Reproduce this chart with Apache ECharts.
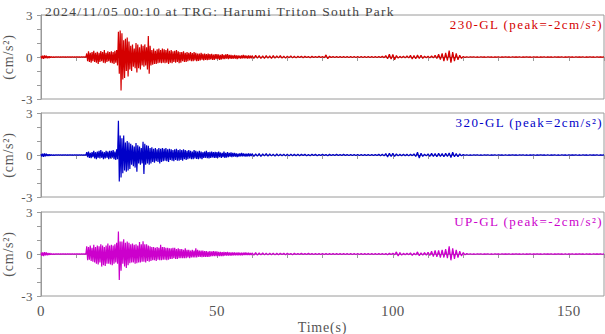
<!DOCTYPE html>
<html><head><meta charset="utf-8">
<script src="https://cdn.jsdelivr.net/npm/echarts@6/dist/echarts.min.js"></script>
<style>html,body{margin:0;padding:0;background:#fff}#c{width:605px;height:334px}</style>
</head><body><div id="c"></div>
<script>
// the hand-read waveforms: 0-60 s at 0.25 s spacing, then 60-160 s at 0.5 s spacing
const dtHead = 0.25;
const dtTail = 0.5;
const tailStart = 60;
const xTickLabels = [0, 50, 100, 150];
const yTickLabels = [-3, 0, 3];
const chartTitle = '2024/11/05 00:10 at TRG: Harumi Triton South Park';
const channelNames = ['230-GL (peak=-2cm/s²)', '320-GL (peak=2cm/s²)', 'UP-GL (peak=-2cm/s²)'];
const yName = '(cm/s²)';
const xName = 'Time(s)';

// 230-GL acceleration (cm/s^2), t = 0 ... 59.75 s
const gl230Head = [
0.08,-0.12,0.1,-0.14,0.12,-0.08,0.1,-0.1,0.06,-0.08,0.05,-0.04,0.03,-0.03,0.02,-0.03,0.02,-0.02,0.02,-0.01,
0.02,-0.02,0.01,-0.02,0.02,-0.01,0.02,-0.02,0.01,-0.02,0.02,-0.01,0.02,-0.02,0.01,-0.01,0.02,-0.02,0.01,-0.02,
0.02,-0.01,0.02,-0.02,0.01,-0.02,0.02,-0.01,0.02,-0.02,0.01,-0.02,0.25,-0.3,0.4,-0.35,0.3,-0.4,0.35,-0.3,
0.45,-0.35,0.3,-0.4,0.38,-0.5,0.3,-0.35,0.42,-0.3,0.35,-0.4,0.5,-0.45,0.3,-0.35,0.4,-0.3,0.35,-0.4,
0.4,-0.45,0.35,-0.5,0.45,-0.4,0.5,-0.6,1.8,-1.2,1.9,-2.4,1.7,-1.6,1.2,-1.5,1.3,-1.0,1.4,-1.4,
1.1,-0.9,0.8,-1.0,0.9,-0.7,0.6,-0.8,1.0,-1.1,0.9,-0.8,0.7,-0.9,0.9,-0.6,0.8,-0.7,0.9,-0.6,
0.7,-0.9,1.5,-1.2,0.8,-0.6,0.5,-0.55,0.6,-0.5,0.45,-0.5,0.55,-0.45,0.6,-0.4,0.5,-0.45,0.6,-0.4,
0.55,-0.45,0.5,-0.4,0.6,-0.5,0.45,-0.4,0.5,-0.45,0.4,-0.35,0.45,-0.4,0.5,-0.35,0.4,-0.45,0.35,-0.4,
0.35,-0.3,0.4,-0.35,0.3,-0.35,0.35,-0.3,0.3,-0.25,0.35,-0.3,0.28,-0.3,0.35,-0.25,0.3,-0.3,0.25,-0.28,
0.25,-0.25,0.3,-0.2,0.22,-0.25,0.25,-0.2,0.2,-0.22,0.25,-0.2,0.2,-0.18,0.22,-0.2,0.18,-0.2,0.2,-0.15,
0.2,-0.15,0.18,-0.2,0.15,-0.18,0.2,-0.15,0.15,-0.15,0.18,-0.12,0.2,-0.15,0.15,-0.12,0.15,-0.14,0.12,-0.12,
0.15,-0.12,0.12,-0.15,0.12,-0.1,0.1,-0.12,0.12,-0.1,0.15,-0.1,0.12,-0.1,0.1,-0.12,0.12,-0.1,0.1,-0.1
];
// 230-GL, t = 60 ... 160 s
const gl230Tail = [
0.1,-0.1,0.12,-0.08,0.1,-0.1,0.08,-0.1,0.1,-0.08,
0.08,-0.1,0.1,-0.08,0.08,-0.06,0.1,-0.08,0.06,-0.08,
0.06,-0.05,0.08,-0.06,0.05,-0.06,0.05,-0.04,0.06,-0.05,
0.05,-0.04,0.04,-0.05,0.05,-0.04,0.04,-0.04,0.05,-0.04,
0.04,-0.05,0.15,-0.12,0.06,-0.04,0.04,-0.03,0.04,-0.04,
0.03,-0.04,0.04,-0.03,0.03,-0.03,0.04,-0.03,0.03,-0.03,
0.03,-0.03,0.04,-0.03,0.03,-0.03,0.03,-0.04,0.03,-0.03,
0.03,-0.03,0.04,-0.04,0.05,-0.05,0.1,-0.12,0.2,-0.15,
0.18,-0.2,0.1,-0.08,0.05,-0.05,0.06,-0.06,0.08,-0.07,
0.12,-0.15,0.1,-0.12,0.15,-0.1,0.12,-0.1,0.06,-0.05,
0.05,-0.06,0.08,-0.07,0.12,-0.1,0.2,-0.18,0.25,-0.3,
0.3,-0.25,0.45,-0.4,0.35,-0.3,0.25,-0.2,0.12,-0.1,
0.04,-0.03,0.02,-0.02,0.02,-0.01,0.02,-0.02,0.01,-0.02,
0.02,-0.01,0.01,-0.02,0.02,-0.01,0.01,-0.02,0.01,-0.01,
0.02,-0.02,0.01,-0.01,0.02,-0.01,0.01,-0.02,0.02,-0.01,
0.01,-0.01,0.02,-0.02,0.01,-0.01,0.02,-0.01,0.01,-0.02,
0.02,-0.01,0.01,-0.02,0.01,-0.01,0.02,-0.02,0.01,-0.01,
0.01,-0.02,0.02,-0.01,0.01,-0.01,0.02,-0.02,0.01,-0.01,
0.02,-0.01,0.01,-0.02,0.02,-0.01,0.01,-0.01,0.02,-0.02,
0.01,-0.01,0.02,-0.01,0.01,-0.02,0.02,-0.01,0.01,-0.01,
0.01
];

// 320-GL acceleration (cm/s^2), t = 0 ... 59.75 s
const gl320Head = [
0.08,-0.12,0.1,-0.14,0.12,-0.1,0.1,-0.08,0.06,-0.07,0.05,-0.04,0.03,-0.03,0.02,-0.03,0.02,-0.02,0.02,-0.01,
0.02,-0.01,0.02,-0.02,0.01,-0.02,0.02,-0.01,0.02,-0.02,0.01,-0.02,0.02,-0.01,0.02,-0.02,0.01,-0.02,0.02,-0.01,
0.02,-0.02,0.01,-0.02,0.02,-0.01,0.02,-0.02,0.01,-0.02,0.02,-0.02,0.2,-0.15,0.25,-0.2,0.15,-0.22,0.2,-0.15,
0.3,-0.25,0.2,-0.3,0.25,-0.2,0.3,-0.25,0.35,-0.2,0.25,-0.3,0.2,-0.25,0.3,-0.2,0.25,-0.3,0.3,-0.25,
0.3,-0.2,0.35,-0.3,0.25,-0.35,0.4,-0.3,2.45,-1.9,1.4,-1.6,1.2,-1.3,1.4,-1.1,0.9,-1.2,1.0,-1.1,
0.9,-1.0,0.8,-0.7,0.7,-0.8,0.6,-0.9,0.85,-1.2,0.7,-0.6,0.6,-0.7,0.5,-0.6,0.95,-1.35,0.8,-0.7,
0.7,-0.6,0.65,-0.7,0.5,-0.6,0.55,-0.5,0.45,-0.55,0.5,-0.45,0.4,-0.5,0.5,-0.6,0.45,-0.5,0.5,-0.45,
0.45,-0.4,0.5,-0.45,0.4,-0.5,0.45,-0.35,0.4,-0.4,0.35,-0.45,0.4,-0.35,0.45,-0.4,0.35,-0.4,0.4,-0.35,
0.35,-0.4,0.4,-0.3,0.35,-0.35,0.3,-0.3,0.35,-0.25,0.3,-0.3,0.25,-0.3,0.35,-0.25,0.3,-0.28,0.25,-0.3,
0.3,-0.25,0.25,-0.3,0.2,-0.2,0.25,-0.2,0.3,-0.22,0.2,-0.25,0.22,-0.2,0.25,-0.18,0.2,-0.2,0.22,-0.2,
0.2,-0.2,0.25,-0.15,0.18,-0.2,0.15,-0.15,0.25,-0.2,0.15,-0.18,0.2,-0.15,0.15,-0.12,0.18,-0.15,0.15,-0.12,
0.15,-0.12,0.12,-0.15,0.1,-0.12,0.12,-0.1,0.15,-0.1,0.12,-0.1,0.1,-0.12,0.1,-0.1,0.12,-0.1,0.1,-0.08
];
// 320-GL, t = 60 ... 160 s
const gl320Tail = [
0.1,-0.1,0.08,-0.08,0.1,-0.1,0.08,-0.06,0.1,-0.08,
0.08,-0.06,0.06,-0.08,0.08,-0.06,0.06,-0.05,0.06,-0.06,
0.05,-0.06,0.06,-0.05,0.05,-0.05,0.06,-0.05,0.05,-0.04,
0.05,-0.05,0.04,-0.05,0.06,-0.04,0.05,-0.05,0.04,-0.04,
0.05,-0.04,0.04,-0.05,0.05,-0.04,0.04,-0.04,0.05,-0.04,
0.04,-0.04,0.05,-0.04,0.04,-0.03,0.04,-0.04,0.03,-0.04,
0.04,-0.03,0.04,-0.04,0.03,-0.04,0.04,-0.03,0.04,-0.04,
0.04,-0.04,0.05,-0.05,0.06,-0.06,0.1,-0.15,0.12,-0.1,
0.12,-0.1,0.08,-0.06,0.05,-0.05,0.06,-0.05,0.05,-0.06,
0.06,-0.05,0.08,-0.1,0.2,-0.22,0.12,-0.1,0.06,-0.06,
0.08,-0.1,0.12,-0.1,0.1,-0.12,0.12,-0.1,0.1,-0.12,
0.12,-0.1,0.15,-0.18,0.2,-0.12,0.1,-0.12,0.08,-0.06,
0.03,-0.02,0.02,-0.02,0.01,-0.02,0.02,-0.01,0.02,-0.02,
0.01,-0.02,0.02,-0.01,0.02,-0.02,0.01,-0.01,0.02,-0.02,
0.02,-0.01,0.01,-0.02,0.02,-0.02,0.01,-0.01,0.02,-0.01,
0.01,-0.02,0.02,-0.01,0.02,-0.02,0.01,-0.02,0.01,-0.01,
0.02,-0.02,0.01,-0.01,0.02,-0.01,0.01,-0.02,0.02,-0.02,
0.01,-0.01,0.02,-0.02,0.01,-0.02,0.02,-0.01,0.01,-0.02,
0.02,-0.01,0.01,-0.01,0.02,-0.02,0.01,-0.02,0.02,-0.01,
0.01,-0.02,0.02,-0.01,0.01,-0.01,0.02,-0.02,0.01,-0.01,
0.01
];

// UP-GL acceleration (cm/s^2), t = 0 ... 59.75 s
const glUpHead = [
0.1,-0.14,0.12,-0.15,0.14,-0.1,0.12,-0.1,0.08,-0.08,0.06,-0.05,0.03,-0.03,0.02,-0.03,0.02,-0.02,0.02,-0.01,
0.02,-0.02,0.01,-0.02,0.02,-0.01,0.02,-0.02,0.01,-0.02,0.02,-0.01,0.02,-0.02,0.01,-0.01,0.02,-0.02,0.01,-0.02,
0.02,-0.01,0.02,-0.02,0.01,-0.02,0.02,-0.01,0.02,-0.02,0.01,-0.02,0.55,-0.45,0.5,-0.4,0.6,-0.5,0.45,-0.55,
0.65,-0.6,0.5,-0.7,0.6,-0.75,0.55,-0.6,0.7,-0.9,0.6,-0.8,0.5,-0.85,0.6,-0.7,0.75,-0.7,0.6,-0.75,
0.65,-0.8,0.6,-0.7,0.7,-0.6,0.8,-0.7,1.6,-1.85,0.9,-1.2,0.9,-0.7,1.05,-0.9,0.8,-1.0,0.9,-0.8,
0.8,-0.65,0.7,-0.6,0.75,-0.6,0.65,-0.7,0.7,-0.65,0.6,-0.6,0.85,-0.6,0.7,-0.55,0.9,-0.55,0.7,-0.6,
0.7,-0.5,0.6,-0.55,0.55,-0.5,0.5,-0.45,0.5,-0.45,0.45,-0.5,0.5,-0.4,0.45,-0.45,0.65,-0.45,0.5,-0.4,
0.5,-0.4,0.45,-0.45,0.45,-0.4,0.4,-0.35,0.4,-0.35,0.45,-0.3,0.45,-0.35,0.35,-0.35,0.4,-0.3,0.35,-0.3,
0.35,-0.3,0.3,-0.3,0.4,-0.3,0.3,-0.25,0.3,-0.3,0.25,-0.25,0.3,-0.25,0.25,-0.25,0.4,-0.25,0.3,-0.2,
0.25,-0.2,0.25,-0.22,0.25,-0.2,0.2,-0.2,0.2,-0.2,0.18,-0.2,0.2,-0.18,0.18,-0.16,0.2,-0.15,0.18,-0.15,
0.18,-0.15,0.15,-0.16,0.15,-0.15,0.14,-0.15,0.15,-0.12,0.14,-0.12,0.15,-0.12,0.12,-0.12,0.12,-0.12,0.12,-0.1,
0.12,-0.1,0.1,-0.1,0.12,-0.1,0.1,-0.1,0.1,-0.1,0.1,-0.08,0.12,-0.08,0.1,-0.08,0.1,-0.08,0.08,-0.08
];
// UP-GL, t = 60 ... 160 s
const glUpTail = [
0.08,-0.08,0.1,-0.08,0.08,-0.06,0.08,-0.06,0.06,-0.06,
0.06,-0.05,0.06,-0.06,0.05,-0.05,0.06,-0.04,0.05,-0.05,
0.05,-0.04,0.04,-0.05,0.05,-0.04,0.04,-0.04,0.05,-0.04,
0.04,-0.04,0.05,-0.04,0.04,-0.03,0.04,-0.04,0.03,-0.04,
0.04,-0.03,0.04,-0.04,0.03,-0.04,0.04,-0.03,0.04,-0.04,
0.03,-0.04,0.04,-0.03,0.03,-0.03,0.04,-0.03,0.03,-0.03,
0.03,-0.03,0.04,-0.03,0.03,-0.04,0.03,-0.03,0.04,-0.03,
0.03,-0.03,0.04,-0.04,0.03,-0.03,0.04,-0.05,0.05,-0.04,
0.06,-0.05,0.15,-0.15,0.1,-0.08,0.05,-0.05,0.06,-0.05,
0.08,-0.1,0.06,-0.06,0.15,-0.12,0.08,-0.08,0.1,-0.08,
0.12,-0.1,0.2,-0.18,0.25,-0.2,0.25,-0.25,0.3,-0.25,
0.35,-0.3,0.55,-0.45,0.4,-0.35,0.3,-0.25,0.2,-0.15,
0.1,-0.06,0.03,-0.02,0.02,-0.02,0.01,-0.02,0.02,-0.01,
0.02,-0.02,0.01,-0.01,0.02,-0.02,0.01,-0.02,0.02,-0.01,
0.01,-0.02,0.02,-0.01,0.01,-0.01,0.02,-0.02,0.01,-0.01,
0.02,-0.01,0.01,-0.02,0.02,-0.02,0.01,-0.01,0.02,-0.02,
0.01,-0.01,0.02,-0.01,0.01,-0.02,0.02,-0.01,0.01,-0.01,
0.02,-0.02,0.01,-0.01,0.02,-0.01,0.01,-0.02,0.02,-0.02,
0.01,-0.01,0.02,-0.02,0.01,-0.01,0.02,-0.01,0.01,-0.02,
0.02,-0.01,0.01,-0.02,0.02,-0.01,0.01,-0.01,0.02,-0.02,
0.01
];

const waves = [[gl230Head, gl230Tail], [gl320Head, gl320Tail], [glUpHead, glUpTail]];
const colors = ['#d40000', '#0000c8', '#cc00cc'];
const FONT = '"Liberation Serif", "DejaVu Serif", serif';
const TXT = '#555';
const AX = '#9a9a9a';

const chart = echarts.init(document.getElementById('c'), null, {renderer: 'svg'});

const gridTops = [15, 113, 212];
const grids = gridTops.map(t => ({left: 41, right: 1, top: t, height: 84, show: true,
  borderColor: AX, borderWidth: 1, containLabel: false, outerBoundsMode: 'none'}));

const xAxes = gridTops.map((t, i) => ({
  type: 'value', gridIndex: i, min: 0, max: 160, interval: 10,
  axisLine: {show: true, lineStyle: {color: AX}},
  axisTick: {show: true, length: 4, inside: false, lineStyle: {color: AX}},
  splitLine: {show: false},
  axisLabel: {show: i === 2, color: TXT, fontFamily: FONT, fontSize: 15, margin: 7,
    formatter: v => xTickLabels.includes(v) ? String(v) : ''},
  name: i === 2 ? xName : '', nameLocation: 'middle', nameGap: 24, nameMoveOverlap: false,
  nameTextStyle: {color: TXT, fontFamily: FONT, fontSize: 14}
}));

const yAxes = gridTops.map((t, i) => ({
  type: 'value', gridIndex: i, min: -3, max: 3, interval: 1,
  axisLine: {show: true, lineStyle: {color: AX}},
  axisTick: {show: true, length: 4, inside: false, lineStyle: {color: AX}},
  splitLine: {show: false},
  axisLabel: {color: TXT, fontFamily: FONT, fontSize: 13, margin: 8,
    formatter: v => yTickLabels.includes(v) ? String(v) : ''},
  name: yName, nameLocation: 'middle', nameGap: 26, nameRotate: 90, nameMoveOverlap: false,
  nameTextStyle: {color: TXT, fontFamily: FONT, fontSize: 14}
}));

const series = waves.map(([head, tail], i) => ({
  type: 'line', xAxisIndex: i, yAxisIndex: i,
  data: head.map((v, k) => [k * dtHead, v]).concat(tail.map((v, k) => [tailStart + k * dtTail, v])),
  showSymbol: false, symbol: 'none', sampling: null,
  lineStyle: {color: colors[i], width: 1.2},
  areaStyle: {color: colors[i], opacity: 1, origin: 0},
  silent: true
}));

const title = {
  text: chartTitle, left: 40, top: -1,
  textStyle: {color: '#444', fontFamily: FONT, fontSize: 13.5, fontWeight: 'normal'}
};

const graphic = channelNames.map((n, i) => ({
  type: 'text', x: 603, y: gridTops[i] + 3, silent: true,
  style: {text: n, fill: colors[i], font: '13px ' + FONT, textAlign: 'right', textVerticalAlign: 'top'}
}));

chart.setOption({
  animation: false,
  title: title, graphic: graphic,
  grid: grids, xAxis: xAxes, yAxis: yAxes, series: series
});

// the reference typesets its text with a little extra letter spacing
function spaceText() {
  document.querySelectorAll('#c svg text').forEach(el => {
    const s = el.textContent;
    if (s === chartTitle) el.style.letterSpacing = '1.3px';
    else if (channelNames.includes(s)) el.style.letterSpacing = '1.4px';
    else if (s === xName || s === yName) el.style.letterSpacing = '0.8px';
    else el.style.letterSpacing = '0.4px';
  });
}
spaceText();
chart.on('finished', spaceText);
setTimeout(spaceText, 0);
</script></body></html>
